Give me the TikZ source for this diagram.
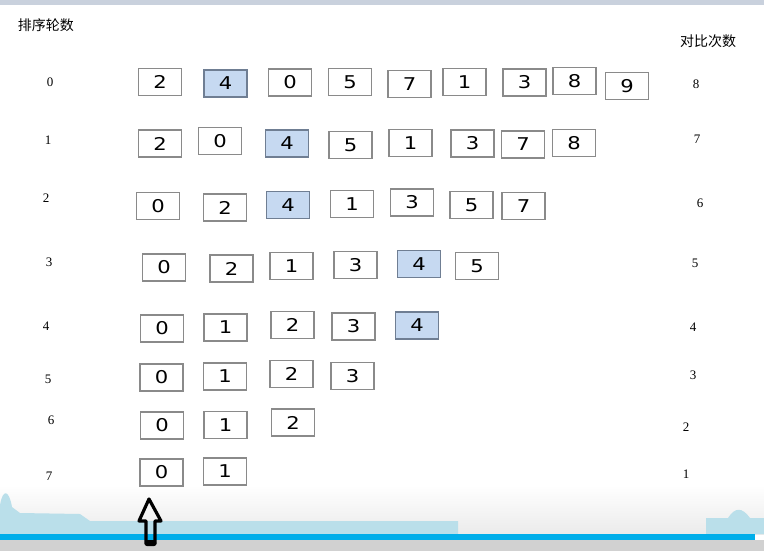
\documentclass[tikz,border=0pt]{standalone}
\usepackage{fontspec}
\setmainfont{Liberation Serif}
\newfontfamily\boxfont[FakeStretch=1.2]{DejaVu Sans}
\newfontfamily\cjk{Noto Sans CJK SC}
\definecolor{hlblue}{HTML}{C6D9F1}
\definecolor{hlborder}{HTML}{6F7E93}
\definecolor{boxgray}{HTML}{8A8A8A}
\definecolor{topgray}{HTML}{C9D1DD}
\definecolor{wave}{HTML}{BADFEA}
\definecolor{barblue}{HTML}{00AEEA}
\begin{document}
\begin{tikzpicture}[x=0.5pt,y=-0.5pt,
  cell/.style={draw=boxgray,fill=white,line width=0.6pt,minimum width=21.5pt,
    minimum height=13.5pt,inner sep=0pt,font=\boxfont\fontsize{8.8}{9}\selectfont},
  hl/.style={cell,fill=hlblue,draw=hlborder},
  lab/.style={font=\fontsize{6.5}{7}\selectfont},
  hdr/.style={font=\cjk\fontsize{7}{8}\selectfont}]
\useasboundingbox (0,0) rectangle (764,551);
% frame of the screenshot
\fill[topgray] (0,0) rectangle (764,5);
\shade[top color=white,bottom color=black!8] (0,485) rectangle (764,534);
\fill[wave] (0,534) -- (0,505) .. controls (3,488) and (9,490) .. (12,507)
  -- (20,513) -- (80,514) -- (90,521) -- (458,521) -- (458,534) -- cycle;
\fill[wave] (706,534) -- (706,518) -- (728,518) .. controls (735,507) and (742,507) .. (750,518)
  -- (764,518) -- (764,534) -- cycle;
\fill[barblue] (0,534) rectangle (755,540);
\fill[black!18] (0,540) rectangle (764,551);
% headers
\node[hdr] (roundhdr) at (46,25) {排序轮数};
\node[hdr] (cmphdr) at (708,41) {对比次数};
% round numbers
\foreach \t/\x/\y in {0/50/82,1/48/140,2/46/198,3/49/262,4/46/326,5/48/379,6/51/420,7/49/476}
  \node[lab] (round\t) at (\x,\y) {\t};
% comparison counts
\foreach \t/\x/\y in {8/696/84,7/697/139,6/700/203,5/695/263,4/693/327,3/693/375,2/686/427,1/686/474}
  \node[lab] (cmp\t) at (\x,\y) {\t};
% round 0
\foreach \v/\x/\y/\s [count=\i] in {2/160/82/cell,4/225.5/83.5/hl,0/290/82.5/cell,5/350/82/cell,
  7/409.5/84/cell,1/464.5/82/cell,3/524.5/82.5/cell,8/574.5/81/cell,9/627/86/cell}
  \node[\s] (r0c\i) at (\x,\y) {\v};
% round 1
\foreach \v/\x/\y/\s [count=\i] in {2/160/143.5/cell,0/220/141/cell,4/287/143.5/hl,5/350.5/145/cell,
  1/410.5/143/cell,3/472.5/143.5/cell,7/523/144.5/cell,8/574/143/cell}
  \node[\s] (r1c\i) at (\x,\y) {\v};
% round 2
\foreach \v/\x/\y/\s [count=\i] in {0/158/206/cell,2/225/207.5/cell,4/288/205/hl,1/352/204/cell,
  3/412/202.5/cell,5/471.5/205/cell,7/523.5/206/cell}
  \node[\s] (r2c\i) at (\x,\y) {\v};
% round 3
\foreach \v/\x/\y/\s [count=\i] in {0/164/267.5/cell,2/231.5/268.5/cell,1/291.5/266/cell,
  3/355.5/265/cell,4/419/264/hl,5/477/266/cell}
  \node[\s] (r3c\i) at (\x,\y) {\v};
% round 4
\foreach \v/\x/\y/\s [count=\i] in {0/162/328.5/cell,1/225.5/327.5/cell,2/292.5/325/cell,
  3/353.5/326.5/cell,4/417/325.5/hl}
  \node[\s] (r4c\i) at (\x,\y) {\v};
% round 5
\foreach \v/\x/\y/\s [count=\i] in {0/161.5/377.5/cell,1/225/376.5/cell,2/291.5/374/cell,3/352.5/376/cell}
  \node[\s] (r5c\i) at (\x,\y) {\v};
% round 6
\foreach \v/\x/\y/\s [count=\i] in {0/162/425.5/cell,1/225.5/425/cell,2/293/422.5/cell}
  \node[\s] (r6c\i) at (\x,\y) {\v};
% round 7
\foreach \v/\x/\y/\s [count=\i] in {0/161.5/472.5/cell,1/225/471.5/cell}
  \node[\s] (r7c\i) at (\x,\y) {\v};
% pointer
\draw[line width=1.6pt,line join=round] (149,499) -- (139,521) -- (146,521) -- (146,544)
  -- (155,544) -- (155,521) -- (161,521) -- cycle;
\fill[rounded corners=1pt] (145,540) rectangle (156,546);
\end{tikzpicture}
\end{document}
